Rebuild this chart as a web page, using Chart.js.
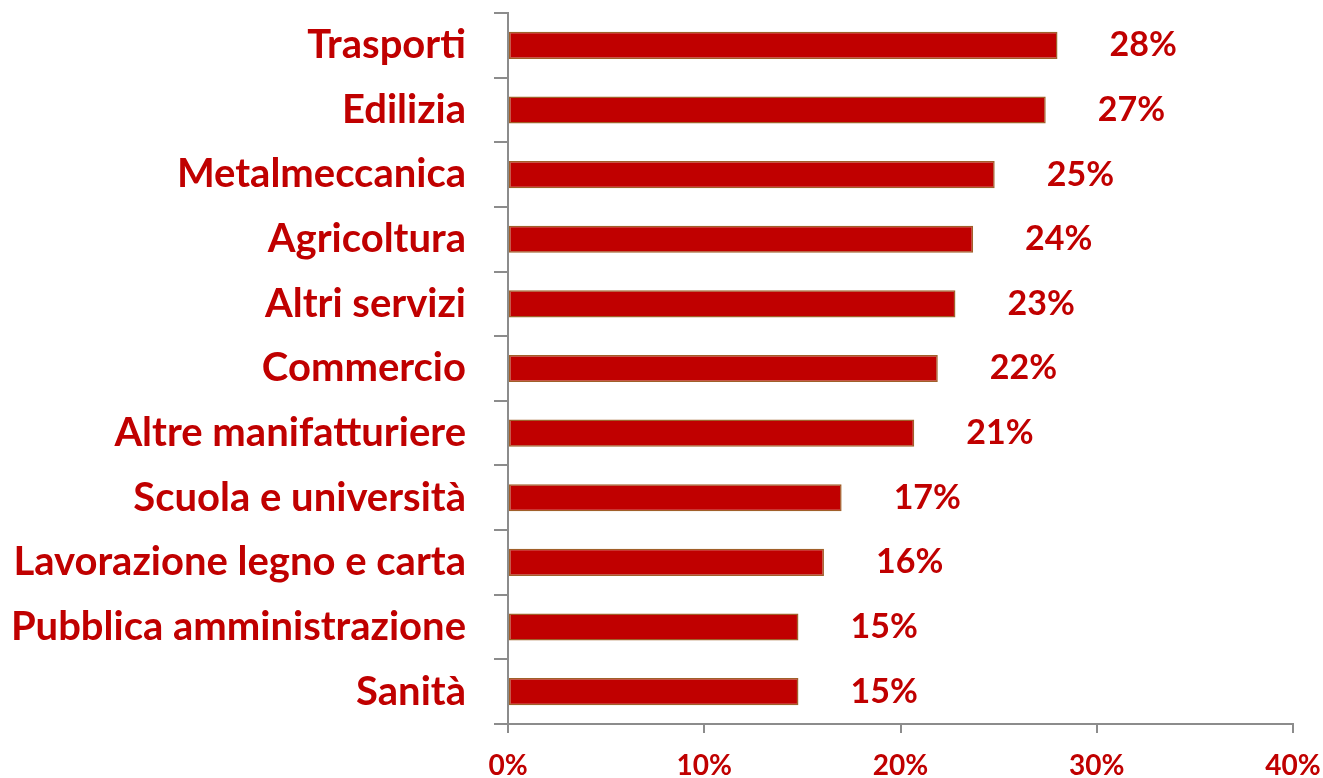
<!DOCTYPE html>
<html>
<head>
<meta charset="utf-8">
<script src="https://cdn.jsdelivr.net/npm/chart.js@4"></script>
<style>
    html, body { margin: 0; padding: 0; background: #ffffff; }
    #wrap { width: 1323px; height: 778px; }
</style>
</head>
<body>
<div id="wrap"><canvas id="chartSettori"></canvas></div>
<script>
// dati
const categorie = [
    'Trasporti', 'Edilizia', 'Metalmeccanica', 'Agricoltura', 'Altri servizi',
    'Commercio', 'Altre manifatturiere', 'Scuola e università',
    'Lavorazione legno e carta', 'Pubblica amministrazione', 'Sanità'
];
const valori = [28.0, 27.4, 24.8, 23.7, 22.8, 21.9, 20.7, 17.0, 16.1, 14.8, 14.8];
const etichetteValori = ['28%', '27%', '25%', '24%', '23%', '22%', '21%', '17%', '16%', '15%', '15%'];
const tickX = ['0%', '10%', '20%', '30%', '40%'];

const rosso = '#C00000';
const grigio = '#8C8C8C';
const font = 'Lato, "Open Sans", sans-serif';

// etichette dei valori a destra delle barre
const valueLabels = {
    id: 'valueLabels',
    afterDatasetsDraw(chart) {
        const ctx = chart.ctx;
        const meta = chart.getDatasetMeta(0);
        ctx.save();
        ctx.fillStyle = rosso;
        ctx.font = 'bold 34px ' + font;
        ctx.textAlign = 'left';
        ctx.textBaseline = 'middle';
        meta.data.forEach((bar, i) => {
            ctx.fillText(etichetteValori[i], bar.x + 52, bar.y);
        });
        ctx.restore();
    }
};

new Chart(document.getElementById('chartSettori'), {
    type: 'bar',
    data: {
        labels: categorie,
        datasets: [{
            data: valori,
            backgroundColor: rosso,
            borderColor: '#A0602A',
            borderWidth: 1.5,
            borderSkipped: false,
            categoryPercentage: 1,
            barPercentage: 0.42
        }]
    },
    options: {
        indexAxis: 'y',
        responsive: true,
        maintainAspectRatio: false,
        animation: false,
        layout: { padding: { top: 13, right: 30, left: 0, bottom: 0 } },
        plugins: {
            legend: { display: false },
            tooltip: { enabled: false }
        },
        scales: {
            x: {
                min: 0,
                max: 40,
                ticks: {
                    stepSize: 10,
                    color: rosso,
                    padding: 16,
                    font: { family: font, size: 28, weight: 'bold' },
                    callback: (v) => tickX[v / 10]
                },
                grid: {
                    drawOnChartArea: false,
                    color: grigio,
                    lineWidth: 2,
                    tickLength: 9
                },
                border: { color: grigio, width: 2 },
                afterFit(scale) {
                    scale.height = 54;
                    scale.paddingLeft = 0;
                    scale.paddingRight = 0;
                }
            },
            y: {
                ticks: {
                    color: rosso,
                    padding: 28,
                    font: { family: font, size: 40, weight: 'bold' }
                },
                grid: {
                    drawOnChartArea: false,
                    offset: true,
                    color: grigio,
                    lineWidth: 2,
                    tickLength: 14
                },
                border: { color: grigio, width: 2 },
                afterFit(scale) {
                    scale.width = 508;
                    scale.paddingTop = 0;
                    scale.paddingBottom = 0;
                }
            }
        }
    },
    plugins: [valueLabels]
});
</script>
</body>
</html>
